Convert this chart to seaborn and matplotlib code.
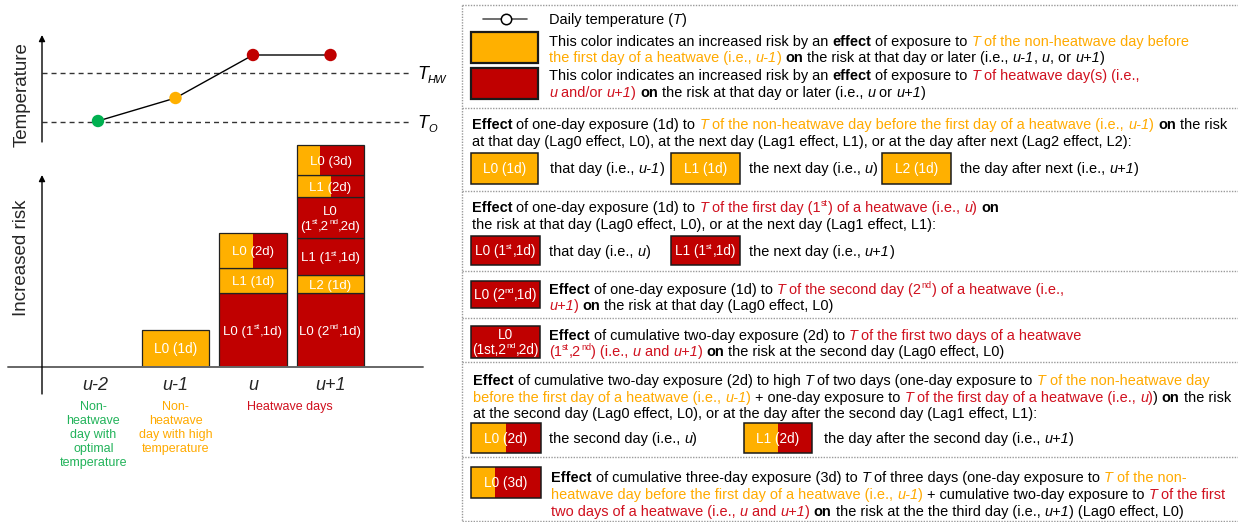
import re
import numpy as np
import pandas as pd
import matplotlib
matplotlib.use('Agg')
import matplotlib.pyplot as plt
import seaborn as sns
from matplotlib.patches import Rectangle
from matplotlib.lines import Line2D

sns.set_style('white')
plt.rcParams['font.family'] = ['Liberation Sans', 'DejaVu Sans']

W, H = 1238, 522
ORANGE = '#FFB000'
RED = '#C00000'
GREEN = '#00B050'
TXT_OR = '#FFAA00'
TXT_RED = '#D0101E'
TXT_GREEN = '#22B35A'
FS = 10.45         # legend text size
BL = 5.2           # baseline offset from line centre (px)

# ---------------- data ----------------
days = ['u-2', 'u-1', 'u', 'u+1']
day_pos = [0, 1, 2, 3]
temperature = [21, 44, 87, 87]
point_colors = [GREEN, ORANGE, RED, RED]
T_O = 20
T_HW = 69

seg_day = [1, 2, 2, 2, 3, 3, 3, 3, 3, 3]
seg_label = ['L0 (1d)', 'L0 (1<s>st</s>,1d)', 'L1 (1d)', 'L0 (2d)',
             'L0 (2<s>nd</s>,1d)', 'L2 (1d)', 'L1 (1<s>st</s>,1d)',
             'L0\n(1<s>st</s>,2<s>nd</s>,2d)', 'L1 (2d)', 'L0 (3d)']
seg_height = [37, 74, 25, 35, 74, 18, 37, 41, 22, 30]
seg_orange_share = [1, 0, 1, 0.5, 0, 1, 0, 0, 0.5, 0.35]

desc_green = ['Non-', 'heatwave', 'day with', 'optimal', 'temperature']
desc_orange = ['Non-', 'heatwave', 'day with high', 'temperature']
desc_red = ['Heatwave days']

# ---------------- figure ----------------
fig = plt.figure(figsize=(W / 100, H / 100), dpi=100)
fig.patch.set_facecolor('white')
renderer = fig.canvas.get_renderer()


def px_axes(x0, y0, x1, y1):
    return fig.add_axes([x0 / W, 1 - y1 / H, (x1 - x0) / W, (y1 - y0) / H])


def parse(markup):
    parts = re.split(r'(</?[biorsd]>)', markup)
    st = {k: False for k in 'biorsd'}
    out = []
    for p in parts:
        if not p:
            continue
        m = re.fullmatch(r'<(/?)([biorsd])>', p)
        if m:
            st[m.group(2)] = (m.group(1) == '')
        else:
            out.append((p, dict(st)))
    return out


def text_width(s, **kw):
    t = fig.text(0, 0, s, **kw)
    w = t.get_window_extent(renderer).width
    t.remove()
    return w


def draw_runs(x, y, markup, size=FS, color='black', ha='left'):
    items = []
    for s, st in parse(markup):
        c = color
        if st['o']:
            c = TXT_OR
        if st['r']:
            c = TXT_RED
        small = st['s'] or st['d']
        fs = size * (0.62 if small else 1)
        kw = dict(fontsize=fs, color=c,
                  fontweight='bold' if st['b'] else 'normal',
                  fontstyle='italic' if st['i'] else 'normal')
        w = text_width('|' + s + '|', **kw) - text_width('||', **kw)
        if st['s']:
            dy = size * 0.42 * 100 / 72
        elif st['d']:
            dy = -size * 0.22 * 100 / 72
        else:
            dy = 0
        items.append((s, kw, w, dy))
    total = sum(i[2] for i in items)
    if ha == 'center':
        x -= total / 2
    for s, kw, w, dy in items:
        fig.text(x / W, (H - y + dy) / H, s, va='baseline', ha='left', **kw)
        x += w


def px_to_data_x(px):
    return (px - 98) / 77.5


XMIN, XMAX = px_to_data_x(8), px_to_data_x(423)
XA = px_to_data_x(42)
XD = px_to_data_x(410)

# ---------------- temperature panel ----------------
ax_t = px_axes(8, 35, 423, 142)
ax_t.set_xlim(XMIN, XMAX)
ax_t.set_ylim(0, 107)
ax_t.axis('off')
ax_t.annotate('', xy=(XA, 107), xytext=(XA, 0),
              arrowprops=dict(arrowstyle='-|>', color='black', lw=1,
                              mutation_scale=9, shrinkA=0, shrinkB=0),
              annotation_clip=False)
for lvl in (T_O, T_HW):
    ax_t.plot([XA, XD], [lvl, lvl], color='#333333', lw=1,
              linestyle=(0, (3.6, 2.9)))
temp_df = pd.DataFrame({'day': days, 'pos': day_pos, 'T': temperature})
sns.lineplot(data=temp_df, x='pos', y='T', ax=ax_t, color='black', lw=1)
sns.scatterplot(data=temp_df, x='pos', y='T', hue='day',
                palette=dict(zip(days, point_colors)), s=80, linewidth=0,
                legend=False, ax=ax_t, zorder=3)
ax_t.axis('off')

for lvl, sub in ((T_HW, 'HW'), (T_O, 'O')):
    dx, dy = ax_t.transData.transform((XD, lvl))
    draw_runs(417, H - dy + 6, '<i>T</i><d><i>' + sub + '</i></d>', size=13)

# ---------------- risk panel ----------------
ax_r = px_axes(8, 140, 423, 367)
ax_r.set_xlim(XMIN, XMAX)
ax_r.set_ylim(0, 227)
ax_r.axis('off')
ax_r.plot([XMIN, XMAX], [0, 0], color='#666666', lw=1.4, clip_on=False)
ax_r.annotate('', xy=(XA, 192), xytext=(XA, -27),
              arrowprops=dict(arrowstyle='-|>', color='black', lw=1,
                              mutation_scale=9, shrinkA=0, shrinkB=0),
              annotation_clip=False)

bar_w = 0.877
bottoms = {d: 0 for d in day_pos}
for d, lab, h, f in zip(seg_day, seg_label, seg_height, seg_orange_share):
    b = bottoms[d]
    left = d - bar_w / 2
    if f > 0:
        ax_r.bar(left, h, width=bar_w * f, bottom=b, align='edge',
                 color=ORANGE, lw=0)
    if f < 1:
        ax_r.bar(left + bar_w * f, h, width=bar_w * (1 - f), bottom=b,
                 align='edge', color=RED, lw=0)
    ax_r.bar(left, h, width=bar_w, bottom=b, align='edge', fill=False,
             edgecolor='#222222', lw=0.9)
    cx, cy = ax_r.transData.transform((d, b + h / 2))
    lines = lab.split('\n')
    n = len(lines)
    lh = 15
    for k, ln in enumerate(lines):
        ypx = (H - cy) + (k - (n - 1) / 2) * lh + 4.7
        draw_runs(cx, ypx, ln, size=9.8 if d == 1 else 9.5, color='white',
                  ha='center')
    bottoms[d] = b + h

for d, lab in zip(day_pos, days):
    ax_r.text(d - (0.04 if d == 0 else 0), -19, lab, ha='center',
              va='center', fontsize=13, fontstyle='italic', clip_on=False)

ax_r.text(-0.06, -34, '\n'.join(desc_green), ha='center', va='top',
          fontsize=9, color=TXT_GREEN, linespacing=1.22, clip_on=False)
ax_r.text(1.0, -34, '\n'.join(desc_orange), ha='center', va='top',
          fontsize=9, color=TXT_OR, linespacing=1.22, clip_on=False)
ax_r.text(2.48, -34, '\n'.join(desc_red), ha='center', va='top',
          fontsize=9, color=TXT_RED, linespacing=1.22, clip_on=False)

fig.text(22 / W, 1 - 95 / H, 'Temperature', rotation=90, ha='center',
         va='center', fontsize=13.5)
fig.text(22 / W, 1 - 258 / H, 'Increased risk', rotation=90, ha='center',
         va='center', fontsize=13.5)

# ---------------- right legend panel ----------------
def hline(y, x0=462, x1=1238):
    fig.add_artist(Line2D([x0 / W, x1 / W], [1 - y / H] * 2,
                          transform=fig.transFigure, color='#9a9a9a',
                          lw=1, linestyle=(0, (1, 1))))


for yy in (5, 108, 191, 271, 318, 362, 457, 521):
    hline(yy)
fig.add_artist(Line2D([462 / W] * 2, [1 - 5 / H, 1 - 521 / H],
                      transform=fig.transFigure, color='#9a9a9a', lw=1,
                      linestyle=(0, (1, 1))))


def swatch(x0, y0, x1, y1, share, label, lw=1.1):
    fw = (x1 - x0) * share
    if share > 0:
        fig.add_artist(Rectangle((x0 / W, 1 - y1 / H), fw / W, (y1 - y0) / H,
                                 transform=fig.transFigure, fc=ORANGE, lw=0))
    if share < 1:
        fig.add_artist(Rectangle(((x0 + fw) / W, 1 - y1 / H),
                                 (x1 - x0 - fw) / W, (y1 - y0) / H,
                                 transform=fig.transFigure, fc=RED, lw=0))
    fig.add_artist(Rectangle((x0 / W, 1 - y1 / H), (x1 - x0) / W,
                             (y1 - y0) / H, transform=fig.transFigure,
                             fill=False, ec='#1a1a1a', lw=lw))
    if label:
        lines = label.split('\n')
        n = len(lines)
        cy = (y0 + y1) / 2
        for k, ln in enumerate(lines):
            draw_runs((x0 + x1) / 2, cy + (k - (n - 1) / 2) * 15 + 4.7, ln,
                      size=9.8, color='white', ha='center')


# box 1
fig.add_artist(Line2D([483 / W, 527 / W], [1 - 19 / H] * 2,
                      transform=fig.transFigure, color='#555555', lw=1.2))
fig.add_artist(Line2D([506 / W], [1 - 19 / H], transform=fig.transFigure,
                      marker='o', ms=7.5, mfc='white', mec='black', mew=1.1,
                      lw=0))
draw_runs(549, 19 + BL, 'Daily temperature (<i>T</i>)')
swatch(471, 32, 538, 63, 1, '', lw=1.6)
swatch(471, 68, 538, 99, 0, '', lw=1.6)
draw_runs(549, 41 + BL, 'This color indicates an increased risk by an <b>effect</b> of exposure to <o><i>T</i> of the non-heatwave day before</o>')
draw_runs(549, 57 + BL, '<o>the first day of a heatwave (i.e., <i>u-1</i>)</o> <b>on</b> the risk at that day or later (i.e., <i>u-1</i>, <i>u</i>, or <i>u+1</i>)')
draw_runs(549, 75 + BL, 'This color indicates an increased risk by an <b>effect</b> of exposure to <r><i>T</i> of heatwave day(s) (i.e.,</r>')
draw_runs(549, 92 + BL, '<r><i>u</i> and/or <i>u+1</i>)</r> <b>on</b> the risk at that day or later (i.e., <i>u</i> or <i>u+1</i>)')

# box 2
draw_runs(472, 124 + BL, '<b>Effect</b> of one-day exposure (1d) to <o><i>T</i> of the non-heatwave day before the first day of a heatwave (i.e., <i>u-1</i>)</o> <b>on</b> the risk')
draw_runs(472, 141 + BL, 'at that day (Lag0 effect, L0), at the next day (Lag1 effect, L1), or at the day after next (Lag2 effect, L2):')
swatch(471, 153, 538, 184, 1, 'L0 (1d)')
swatch(671, 153, 740, 184, 1, 'L1 (1d)')
swatch(882, 153, 951, 184, 1, 'L2 (1d)')
draw_runs(550, 168 + BL, 'that day (i.e., <i>u-1</i>)')
draw_runs(749, 168 + BL, 'the next day (i.e., <i>u</i>)')
draw_runs(960, 168 + BL, 'the day after next (i.e., <i>u+1</i>)')

# box 3
draw_runs(472, 207 + BL, '<b>Effect</b> of one-day exposure (1d) to <r><i>T</i> of the first day (1<s>st</s>) of a heatwave (i.e., <i>u</i>)</r> <b>on</b>')
draw_runs(472, 224 + BL, 'the risk at that day (Lag0 effect, L0), or at the next day (Lag1 effect, L1):')
swatch(471, 236, 540, 265, 0, 'L0 (1<s>st</s>,1d)')
swatch(671, 236, 740, 265, 0, 'L1 (1<s>st</s>,1d)')
draw_runs(549, 251 + BL, 'that day (i.e., <i>u</i>)')
draw_runs(749, 251 + BL, 'the next day (i.e., <i>u+1</i>)')

# box 4
swatch(471, 281, 540, 308, 0, 'L0 (2<s>nd</s>,1d)')
draw_runs(549, 289 + BL, '<b>Effect</b> of one-day exposure (1d) to <r><i>T</i> of the second day (2<s>nd</s>) of a heatwave (i.e.,</r>')
draw_runs(549, 305 + BL, '<r><i>u+1</i>)</r> <b>on</b> the risk at that day (Lag0 effect, L0)')

# box 5
swatch(471, 326, 540, 358, 0, 'L0\n(1st,2<s>nd</s>,2d)')
draw_runs(549, 335 + BL, '<b>Effect</b> of cumulative two-day exposure (2d) to <r><i>T</i> of the first two days of a heatwave</r>')
draw_runs(549, 351 + BL, '<r>(1<s>st</s>,2<s>nd</s>) (i.e., <i>u</i> and <i>u+1</i>)</r> <b>on</b> the risk at the second day (Lag0 effect, L0)')

# box 6
draw_runs(473, 380 + BL, '<b>Effect</b> of cumulative two-day exposure (2d) to high <i>T</i> of two days (one-day exposure to <o><i>T</i> of the non-heatwave day</o>')
draw_runs(473, 397 + BL, '<o>before the first day of a heatwave (i.e., <i>u-1</i>)</o> + one-day exposure to <r><i>T</i> of the first day of a heatwave (i.e., <i>u</i>)</r>) <b>on</b> the risk')
draw_runs(473, 413 + BL, 'at the second day (Lag0 effect, L0), or at the day after the second day (Lag1 effect, L1):')
swatch(471, 423, 541, 453, 0.5, 'L0 (2d)')
swatch(744, 423, 812, 453, 0.5, 'L1 (2d)')
draw_runs(549, 438 + BL, 'the second day (i.e., <i>u</i>)')
draw_runs(824, 438 + BL, 'the day after the second day (i.e., <i>u+1</i>)')

# box 7
swatch(471, 467, 541, 498, 0.34, 'L0 (3d)')
draw_runs(551, 477 + BL, '<b>Effect</b> of cumulative three-day exposure (3d) to <i>T</i> of three days (one-day exposure to <o><i>T</i> of the non-</o>')
draw_runs(551, 494 + BL, '<o>heatwave day before the first day of a heatwave (i.e., <i>u-1</i>)</o> + cumulative two-day exposure to <r><i>T</i> of the first</r>')
draw_runs(551, 511 + BL, '<r>two days of a heatwave (i.e., <i>u</i> and <i>u+1</i>)</r> <b>on</b> the risk at the the third day (i.e., <i>u+1</i>) (Lag0 effect, L0)')

fig.savefig('out.png', dpi=100)
